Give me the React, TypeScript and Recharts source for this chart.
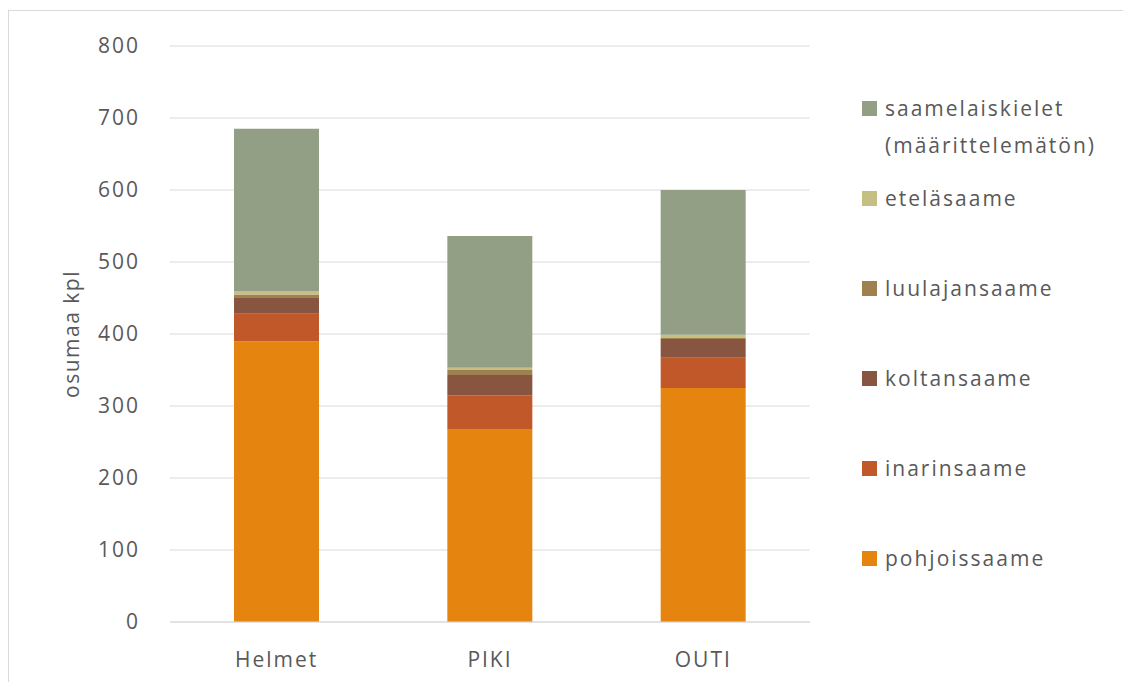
import React from 'react';
import { BarChart, Bar, XAxis, YAxis, CartesianGrid, Legend } from 'recharts';

const categories = ['Helmet', 'PIKI', 'OUTI'];
const pohjoissaame = [390, 268, 325];
const inarinsaame = [38, 47, 42];
const koltansaame = [23, 28, 26];
const luulajansaame = [4, 7, 2];
const etelasaame = [4, 3, 4];
const saamelaiskielet = [226, 183, 201];
const yTicks = [0, 100, 200, 300, 400, 500, 600, 700, 800];

const series = [
  { key: 'pohjoissaame', name: 'pohjoissaame', values: pohjoissaame, color: '#E5850F' },
  { key: 'inarinsaame', name: 'inarinsaame', values: inarinsaame, color: '#C0582A' },
  { key: 'koltansaame', name: 'koltansaame', values: koltansaame, color: '#875540' },
  { key: 'luulajansaame', name: 'luulajansaame', values: luulajansaame, color: '#9E8051' },
  { key: 'etelasaame', name: 'eteläsaame', values: etelasaame, color: '#C6BF84' },
  { key: 'saamelaiskielet', name: 'saamelaiskielet (määrittelemätön)', values: saamelaiskielet, color: '#939F85' },
];

const data = categories.map((c, i) => {
  const row: Record<string, string | number> = { name: c };
  series.forEach((s) => {
    row[s.key] = s.values[i];
  });
  return row;
});

const FONT = '"Open Sans", sans-serif';
const TEXT = '#595959';

const orderOf = (dataKey: any) => series.findIndex((s) => s.key === dataKey);

const renderLegend = (props: any) => {
  const payload = [...(props.payload || [])].sort((a: any, b: any) => orderOf(b.dataKey) - orderOf(a.dataKey));
  return (
    <div style={{ display: 'flex', flexDirection: 'column' }}>
      {payload.map((p: any) => (
        <div key={p.value} style={{ height: 90, display: 'flex', alignItems: 'flex-start' }}>
          <div style={{ width: 15, height: 15, background: p.color, marginTop: 11, flexShrink: 0 }} />
          <div
            style={{
              marginLeft: 8,
              width: 235,
              fontFamily: FONT,
              fontSize: 21,
              letterSpacing: 2,
              lineHeight: '37px',
              color: TEXT,
            }}
          >
            {p.value}
          </div>
        </div>
      ))}
    </div>
  );
};

export default function App() {
  return (
    <div style={{ position: 'relative', width: 1115, height: 674 }}>
      <div
        style={{
          position: 'absolute',
          left: 0,
          top: 2,
          width: 1115,
          height: 672,
          borderTop: '1px solid #d9d9d9',
          borderLeft: '1px solid #d9d9d9',
          boxSizing: 'border-box',
        }}
      />
      <BarChart
        width={1115}
        height={674}
        data={data}
        margin={{ top: 38, right: 313, bottom: 0, left: 0 }}
        barCategoryGap="30%"
      >
        <CartesianGrid vertical={false} stroke="#d9d9d9" />
        <XAxis
          dataKey="name"
          height={60}
          tickLine={false}
          axisLine={{ stroke: '#d9d9d9' }}
          tickMargin={24}
          tick={{ fontFamily: FONT, fontSize: 21, letterSpacing: 2, fill: TEXT }}
        />
        <YAxis
          width={162}
          domain={[0, 800]}
          ticks={yTicks}
          tickLine={false}
          axisLine={false}
          tickMargin={24}
          tick={{ fontFamily: FONT, fontSize: 21, letterSpacing: 2, fill: TEXT }}
          label={{
            value: 'osumaa kpl',
            angle: -90,
            position: 'insideLeft',
            offset: 64,
            style: { textAnchor: 'middle', fontFamily: FONT, fontSize: 21, letterSpacing: 1.5, fill: TEXT },
          }}
        />
        <Legend
          layout="vertical"
          align="center"
          verticalAlign="middle"
          content={renderLegend}
          wrapperStyle={{ left: 854, top: 81.5, width: 260 }}
        />
        {series.map((s) => (
          <Bar key={s.key} dataKey={s.key} name={s.name} stackId="a" fill={s.color} isAnimationActive={false} />
        ))}
      </BarChart>
    </div>
  );
}
